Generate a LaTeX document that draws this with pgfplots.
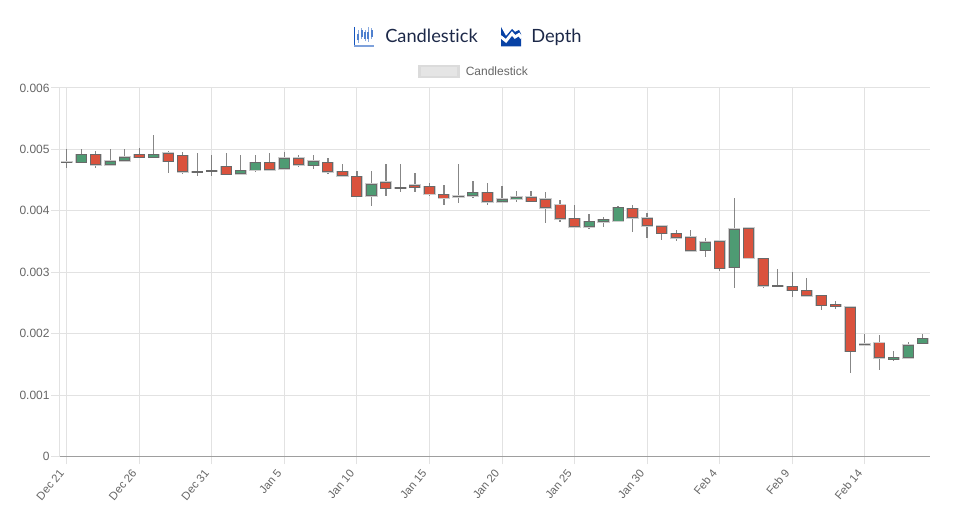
\documentclass[border=0pt]{standalone}
\usepackage{fontspec}
\setmainfont{Liberation Sans}
\newfontfamily\headfont[Ligatures=NoCommon,Contextuals=NoAlternate]{Lato}
\usepackage{pgfplots}
\usepackage{pgfplotstable}
\pgfplotsset{compat=1.18}
\definecolor{cred}{RGB}{218,82,61}
\definecolor{cgreen}{RGB}{78,155,115}
\definecolor{cedge}{RGB}{105,105,105}
\definecolor{chalo}{RGB}{205,205,205}
\definecolor{cgrid}{RGB}{226,226,226}
\definecolor{ctext}{RGB}{102,102,102}
\definecolor{cnavy}{RGB}{28,40,72}
\definecolor{cblue}{RGB}{20,85,190}
\definecolor{cdeep}{RGB}{8,66,165}
\pgfplotstableread{
x lo bottom top hi
2 0.00469 0.00475 0.00492 0.00498
5 0.00487 0.00487 0.004915 0.00502
7 0.00462 0.00480 0.00494 0.00498
8 0.004605 0.00463 0.004905 0.004955
11 0.00459 0.00459 0.00472 0.00494
14 0.004655 0.004666 0.004785 0.00494
16 0.00472 0.00475 0.004857 0.004905
18 0.004596 0.00463 0.004785 0.00486
19 0.00456 0.004564 0.00464 0.00476
20 0.00423 0.00423 0.004557 0.00465
22 0.004248 0.00436 0.004466 0.00476
23 0.004303 0.00436 0.004378 0.004764
24 0.004313 0.004378 0.004417 0.00462
25 0.004248 0.00427 0.004394 0.004454
26 0.0041 0.004205 0.00427 0.00442
29 0.0041 0.00414 0.004296 0.004454
32 0.00414 0.00415 0.004226 0.004324
33 0.003808 0.004047 0.00419 0.004313
34 0.003814 0.003868 0.0041 0.004183
35 0.003722 0.003738 0.003873 0.0041
39 0.00365 0.00388 0.004042 0.0041
40 0.003564 0.003754 0.00388 0.00396
41 0.00353 0.003629 0.003754 0.00377
42 0.003515 0.003559 0.003629 0.003689
43 0.00333 0.003347 0.003575 0.003684
45 0.003016 0.003059 0.003505 0.003505
47 0.003228 0.003228 0.003717 0.003717
48 0.00275 0.002777 0.003228 0.003228
49 0.002767 0.002767 0.002783 0.003049
50 0.002603 0.0027 0.002772 0.003
51 0.002603 0.002614 0.002707 0.002907
52 0.00239 0.002456 0.002619 0.002619
53 0.002407 0.00244 0.002479 0.002528
54 0.001365 0.001707 0.002435 0.002435
55 0.001813 0.001813 0.001829 0.001995
56 0.001414 0.0016 0.001853 0.001979
}\redtable
\pgfplotstableread{
x lo bottom top hi
0 0.00469 0.00479 0.0048 0.005
1 0.004785 0.004785 0.00492 0.005
3 0.00475 0.00475 0.00481 0.005
4 0.00481 0.00481 0.00488 0.005
6 0.00487 0.00487 0.00492 0.00524
9 0.00456 0.00462 0.00464 0.00494
10 0.00456 0.00464 0.004655 0.00491
12 0.0046 0.0046 0.00466 0.004905
13 0.00463 0.00466 0.004785 0.00491
15 0.00468 0.00468 0.004857 0.004955
17 0.004678 0.004736 0.00481 0.004905
21 0.004085 0.004243 0.004438 0.004645
27 0.004134 0.004223 0.00424 0.004764
28 0.004205 0.004238 0.004296 0.004487
30 0.00414 0.00414 0.004194 0.004406
31 0.00414 0.00419 0.004226 0.004324
36 0.00371 0.003738 0.003824 0.003945
37 0.003733 0.00382 0.003863 0.0039
38 0.00383 0.00383 0.004052 0.00408
44 0.003254 0.003352 0.003494 0.003564
46 0.00275 0.003075 0.003705 0.004205
57 0.00155 0.001577 0.001609 0.001713
58 0.001604 0.001604 0.001816 0.00186
59 0.001837 0.001837 0.001925 0.002
}\greentable
% px is one reference pixel
\newlength{\px}\setlength{\px}{0.75pt}
% half a pixel in data units for the body inset
\def\inset{0.000012}
\newcommand{\candles}[2]{%
  % wick
  \addplot[draw=none,mark=none,error bars/.cd,y dir=both,y explicit,error mark=none,
    error bar style={draw=cedge,line width=1.2\px,opacity=0.8}]
    table[x=x,y=top,y error plus expr=\thisrow{hi}-\thisrow{top},y error minus expr=\thisrow{top}-\thisrow{lo}] {#1};
  % halo
  \addplot[draw=none,mark=none,error bars/.cd,y dir=both,y explicit,error mark=none,
    error bar style={draw=chalo,line width=12.2\px}]
    table[x=x,y=top,y error plus expr=0.000012,y error minus expr=\thisrow{top}-\thisrow{bottom}+0.000012] {#1};
  % edge
  \addplot[draw=none,mark=none,error bars/.cd,y dir=both,y explicit,error mark=none,
    error bar style={draw=cedge,line width=11\px}]
    table[x=x,y=top,y error plus expr=0.000003,y error minus expr=\thisrow{top}-\thisrow{bottom}+0.000003] {#1};
  % fill
  \addplot[draw=none,mark=none,error bars/.cd,y dir=both,y explicit,error mark=none,
    error bar style={draw=#2,line width=9\px}]
    table[x=x,y expr=\thisrow{top}-\inset,y error plus expr=0,y error minus expr={max(\thisrow{top}-\thisrow{bottom}-2*\inset,0)}] {#1};
}
\begin{document}
\begin{tikzpicture}
\useasboundingbox (0,0) rectangle (959\px,513\px);
\begin{axis}[
  at={(59.5\px,56.5\px)},anchor=south west,
  scale only axis,width=870.5\px,height=368.5\px,
  xmin=-0.5,xmax=59.5,ymin=0,ymax=0.006,
  axis x line*=bottom,axis y line*=left,
  x axis line style={draw=black!38,line width=1\px},
  y axis line style={draw=cgrid,line width=1\px},
  tick align=outside,
  major tick length=8\px,
  tick style={draw=cgrid,line width=1\px},
  grid=major,
  grid style={draw=cgrid,line width=1\px},
  xtick={0,5,...,55},
  xticklabels={Dec 21,Dec 26,Dec 31,Jan 5,Jan 10,Jan 15,Jan 20,Jan 25,Jan 30,Feb 4,Feb 9,Feb 14},
  ytick={0,0.001,0.002,0.003,0.004,0.005,0.006},
  yticklabels={0,0.001,0.002,0.003,0.004,0.005,0.006},
  scaled y ticks=false,
  tick label style={font=\fontsize{9}{11}\selectfont,text=ctext},
  x tick label style={font=\fontsize{8.5}{10}\selectfont,rotate=50,anchor=north east,inner sep=1pt,xshift=-5pt,yshift=4pt},
  y tick label style={inner sep=2pt,xshift=0.75pt},
  clip=false,
]
\candles{\redtable}{cred}
\candles{\greentable}{cgreen}
\end{axis}
\begin{scope}[x=0.75pt,y=0.75pt]
% header
\node[anchor=base west,text=cnavy,inner sep=0pt,font=\headfont\fontsize{13.7}{16}\selectfont] at (385,470.5) {Candlestick};
\node[anchor=base west,text=cnavy,inner sep=0pt,font=\headfont\fontsize{13.7}{16}\selectfont] at (531,470.5) {Depth};
% candlestick icon
\draw[cblue,line width=1.0] (354.5,486) -- (354.5,467);
\draw[cblue!55,line width=1.3] (354,467) -- (374,467);
\foreach \x/\a/\b/\c/\d in {358.3/470.3/472.7/479.3/482.7,361.7/474.3/476/482.7/485,365/471.7/474.3/481/482.7,368.3/471/474.3/481/485.7,371.7/474.3/476/482.7/485}{
  \draw[cblue!50,line width=0.6] (\x,\a) -- (\x,\d);
  \draw[cblue!75,line width=1.5] (\x,\b) -- (\x,\c);
}
% depth icon
\fill[cdeep] (501,466.5) -- (501,486) -- (506,477) -- (512,484) -- (515,481) -- (519,483) -- (521,479) -- (521,466.5) -- cycle;
\draw[white,line width=2.2] (500.5,476.5) -- (506,472) -- (512,479.5) -- (515,476) -- (519,478.5) -- (521.5,475);
% legend
\draw[draw=black!14,fill=black!10,line width=2.2] (419.5,436) rectangle (458.5,447);
\node[anchor=west,text=ctext,inner sep=0pt,font=\fontsize{9}{11}\selectfont] at (465.5,441.7) {Candlestick};
\end{scope}
\end{tikzpicture}
\end{document}
